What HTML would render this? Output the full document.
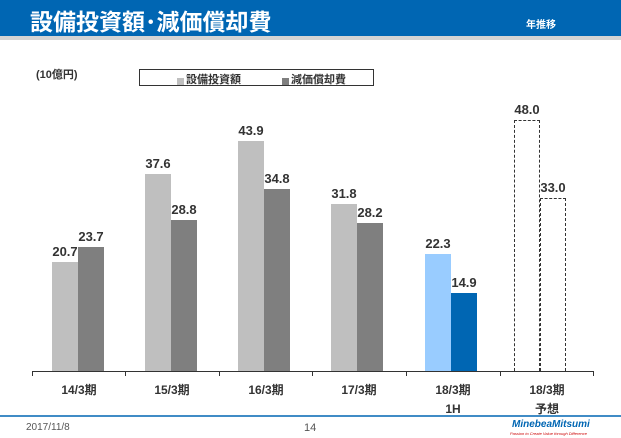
<!DOCTYPE html><html><head><meta charset="utf-8"><style>
body{margin:0;width:621px;height:438px;position:relative;background:#fff;font-family:"Liberation Sans","Noto Sans CJK JP",sans-serif;overflow:hidden}
.a{position:absolute}
.b{position:absolute;bottom:67px;width:26px}
.v{position:absolute;font-weight:bold;font-size:13px;color:#333;width:40px;text-align:center}
.l{position:absolute;top:381px;font-weight:bold;font-size:12px;color:#333;width:90px;text-align:center;line-height:19px}
</style></head><body>
<div class="a" style="left:0;top:0;width:621px;height:36px;background:#0066b3"></div>
<div class="a" style="left:0;top:36px;width:621px;height:4px;background:#d4d4d4"></div>
<div class="a" style="left:30px;top:3px;color:#fff;font-weight:bold;font-size:23px">設備投資額･減価償却費</div>
<div class="a" style="left:526px;top:16px;color:#fff;font-weight:bold;font-size:10px">年推移</div>
<div class="a" style="left:36px;top:66px;font-weight:bold;font-size:11px;color:#333">(10億円)</div>
<div class="a" style="left:139px;top:69px;width:235px;height:17px;border:1px solid #333;box-sizing:border-box"></div>
<div class="a" style="left:177px;top:78px;width:7px;height:7px;background:#bfbfbf"></div>
<div class="a" style="left:186px;top:71px;font-weight:bold;font-size:11px;color:#333">設備投資額</div>
<div class="a" style="left:282px;top:78px;width:7px;height:7px;background:#7f7f7f"></div>
<div class="a" style="left:291px;top:71px;font-weight:bold;font-size:11px;color:#333">減価償却費</div>

<div class="b" style="left:52px;height:109px;background:#bfbfbf"></div><div class="b" style="left:78px;height:124px;background:#7f7f7f"></div>
<div class="b" style="left:145px;height:197px;background:#bfbfbf"></div><div class="b" style="left:171px;height:151px;background:#7f7f7f"></div>
<div class="b" style="left:238px;height:230px;background:#bfbfbf"></div><div class="b" style="left:264px;height:182px;background:#7f7f7f"></div>
<div class="b" style="left:331px;height:167px;background:#bfbfbf"></div><div class="b" style="left:357px;height:148px;background:#7f7f7f"></div>
<div class="b" style="left:425px;height:117px;background:#99ccff"></div><div class="b" style="left:451px;height:78px;background:#0066b3"></div>
<div class="b" style="left:514px;height:251px;border:1px dashed #333;border-bottom:none;box-sizing:border-box"></div>
<div class="b" style="left:540px;height:173px;border:1px dashed #333;border-bottom:none;box-sizing:border-box"></div>

<div class="v" style="left:45px;top:244px">20.7</div><div class="v" style="left:71px;top:229px">23.7</div>
<div class="v" style="left:138px;top:156px">37.6</div><div class="v" style="left:164px;top:202px">28.8</div>
<div class="v" style="left:231px;top:123px">43.9</div><div class="v" style="left:257px;top:171px">34.8</div>
<div class="v" style="left:324px;top:186px">31.8</div><div class="v" style="left:350px;top:205px">28.2</div>
<div class="v" style="left:418px;top:236px">22.3</div><div class="v" style="left:444px;top:275px">14.9</div>
<div class="v" style="left:507px;top:102px">48.0</div><div class="v" style="left:533px;top:180px">33.0</div>

<svg class="a" style="left:0;top:0" width="621" height="438"><g stroke="#333" stroke-width="1" fill="none">
<path d="M32 371.5H594M32.5 371v5M125.5 371v5M219.5 371v5M312.5 371v5M406.5 371v5M500.5 371v5M593.5 371v5"/></g>
<line x1="0" y1="416" x2="621" y2="416" stroke="#0066b3" stroke-width="1.5"/></svg>

<div class="l" style="left:34px">14/3期</div><div class="l" style="left:127px">15/3期</div><div class="l" style="left:221px">16/3期</div><div class="l" style="left:314px">17/3期</div><div class="l" style="left:408px">18/3期<br>1H</div><div class="l" style="left:502px">18/3期<br>予想</div>
<div class="a" style="left:26px;top:422px;font-size:10px;color:#555">2017/11/8</div>
<div class="a" style="left:304px;top:422px;font-size:11px;color:#555">14</div>
<div class="a" style="left:512px;top:419px;font-size:10px;font-weight:bold;font-style:italic;color:#0066b3">MinebeaMitsumi</div>
<div class="a" style="left:510px;top:431px;font-size:4px;font-style:italic;color:#c00">Passion to Create Value through Difference</div>
</body></html>
